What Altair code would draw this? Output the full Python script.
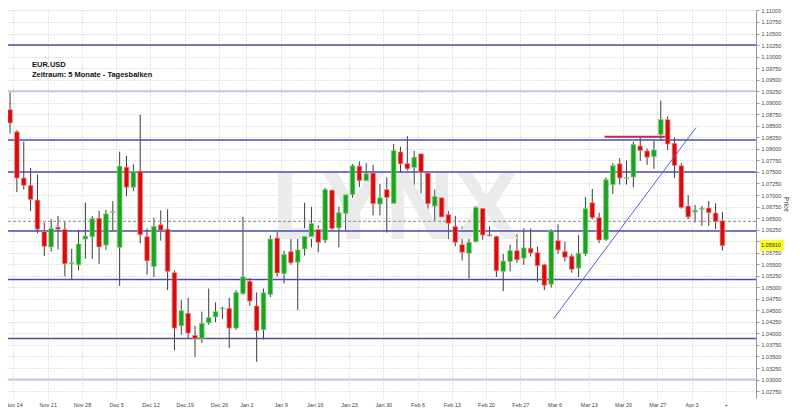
import altair as alt
import pandas as pd

# ---- daily OHLC, EUR.USD (trading-day index 0 = Nov 11) ----
opens = [1.08848, 1.08369, 1.07368, 1.07204, 1.06889, 1.06210, 1.05874, 1.06303, 1.06253, 1.05509,
         1.05488, 1.06045, 1.06096, 1.06496, 1.05917, 1.06625, 1.05867, 1.07604, 1.07168, 1.07518,
         1.06096, 1.05452, 1.06353, 1.06260, 1.05316, 1.04165, 1.04437, 1.03958, 1.03886, 1.04229,
         1.04358, 1.04537, 1.04544, 1.04115, 1.04866, 1.05130, 1.04594, 1.04079, 1.04844, 1.06067,
         1.05295, 1.05774, 1.05545, 1.05831, 1.06103, 1.06253, 1.06024, 1.07104, 1.06289, 1.06603,
         1.07011, 1.07626, 1.07311, 1.07475, 1.06803, 1.07118, 1.06818, 1.07933, 1.07683, 1.07597,
         1.07890, 1.07475, 1.06760, 1.06939, 1.06575, 1.06317, 1.05924, 1.05738, 1.05988, 1.06710,
         1.06138, 1.06103, 1.05345, 1.05559, 1.05795, 1.05631, 1.05845, 1.05752, 1.05488, 1.05066,
         1.06010, 1.05774, 1.05674, 1.05416, 1.05724, 1.06832, 1.06510, 1.06031, 1.07225, 1.07676,
         1.07361, 1.07390, 1.08062, 1.07955, 1.07833, 1.08312, 1.08634, 1.08119, 1.07633, 1.06760,
         1.06632, 1.06689, 1.06718, 1.06610, 1.06439]
highs = [1.09227, 1.08405, 1.08155, 1.07583, 1.07440, 1.06403, 1.06474, 1.06546, 1.06417, 1.05831,
         1.06246, 1.06832, 1.06546, 1.06653, 1.06675, 1.06868, 1.07940, 1.07847, 1.07669, 1.08741,
         1.06274, 1.06510, 1.06668, 1.06689, 1.05366, 1.04723, 1.04773, 1.04165, 1.04472, 1.04973,
         1.04673, 1.04580, 1.04773, 1.04937, 1.06525, 1.05202, 1.04887, 1.04973, 1.06131, 1.06203,
         1.05795, 1.06260, 1.06203, 1.06832, 1.06739, 1.06346, 1.07154, 1.07118, 1.06746, 1.07082,
         1.07676, 1.07726, 1.07690, 1.07654, 1.07240, 1.07383, 1.08105, 1.08047, 1.08276, 1.07955,
         1.07904, 1.07490, 1.07118, 1.07082, 1.06653, 1.06546, 1.06317, 1.06060, 1.06760, 1.06746,
         1.06317, 1.06117, 1.05724, 1.05924, 1.06153, 1.06281, 1.06274, 1.05881, 1.05509, 1.06260,
         1.06367, 1.05988, 1.05724, 1.06131, 1.06961, 1.07132, 1.06617, 1.07383, 1.07690, 1.07797,
         1.07747, 1.08155, 1.08248, 1.08012, 1.08176, 1.09048, 1.08705, 1.08248, 1.07690, 1.06996,
         1.06782, 1.06760, 1.06868, 1.06818, 1.06632]
lows = [1.08333, 1.07061, 1.07118, 1.06653, 1.06174, 1.05674, 1.05774, 1.05817, 1.05238, 1.05166,
        1.05366, 1.05616, 1.05616, 1.05509, 1.05817, 1.06224, 1.05030, 1.06975, 1.07082, 1.05953,
        1.05273, 1.05223, 1.06010, 1.04937, 1.03629, 1.03972, 1.03900, 1.03486, 1.03793, 1.04186,
        1.04244, 1.04315, 1.03686, 1.04079, 1.04830, 1.04601, 1.03386, 1.03865, 1.04787, 1.05238,
        1.05080, 1.05488, 1.04508, 1.05688, 1.05867, 1.05759, 1.05960, 1.06246, 1.05867, 1.06224,
        1.06939, 1.07175, 1.07082, 1.06560, 1.06560, 1.06188, 1.06725, 1.07282, 1.07533, 1.07082,
        1.07032, 1.06532, 1.06403, 1.06474, 1.06045, 1.05888, 1.05581, 1.05187, 1.05974, 1.06031,
        1.06103, 1.05223, 1.04916, 1.05345, 1.05531, 1.05488, 1.05667, 1.05116, 1.04937, 1.04994,
        1.05724, 1.05559, 1.05316, 1.05223, 1.05674, 1.06474, 1.05960, 1.06010, 1.07025, 1.07225,
        1.07225, 1.07168, 1.07740, 1.07654, 1.07568, 1.08176, 1.07976, 1.07368, 1.06703, 1.06474,
        1.06403, 1.06331, 1.06331, 1.06260, 1.05795]
closes = [1.08562, 1.07368, 1.07211, 1.06903, 1.06260, 1.05888, 1.06274, 1.06260, 1.05509, 1.05531,
          1.05938, 1.06110, 1.06489, 1.05874, 1.06589, 1.06639, 1.07626, 1.07168, 1.07511, 1.06138,
          1.05574, 1.06317, 1.06239, 1.05345, 1.04115, 1.04494, 1.04008, 1.03886, 1.04215, 1.04344,
          1.04472, 1.04551, 1.04115, 1.04887, 1.05223, 1.04701, 1.04058, 1.04880, 1.06045, 1.05309,
          1.05709, 1.05531, 1.05810, 1.06103, 1.06382, 1.05974, 1.07118, 1.06274, 1.06617, 1.07004,
          1.07633, 1.07311, 1.07461, 1.06811, 1.06939, 1.06946, 1.07962, 1.07676, 1.07568, 1.07819,
          1.07490, 1.06811, 1.06968, 1.06525, 1.06389, 1.05974, 1.05759, 1.05974, 1.06732, 1.06131,
          1.06117, 1.05359, 1.05566, 1.05795, 1.05595, 1.05852, 1.05745, 1.05466, 1.05044, 1.06224,
          1.05810, 1.05652, 1.05388, 1.05738, 1.06703, 1.06510, 1.06024, 1.07332, 1.07633, 1.07368,
          1.07375, 1.08098, 1.07962, 1.07819, 1.07976, 1.08634, 1.08105, 1.07640, 1.06732, 1.06525,
          1.06668, 1.06710, 1.06617, 1.06424, 1.05902]

# week starts (index of first trading day of each week) and their labels
tick_days = [1, 6, 11, 16, 21, 26, 31, 35, 40, 45, 50, 55, 60, 65, 70, 75, 80, 85, 90, 95, 100, 105]
tick_labels = ["Nov 14", "Nov 21", "Nov 28", "Dec 5", "Dec 12", "Dec 19", "Dec 26", "Jan 2", "Jan 9",
               "Jan 16", "Jan 23", "Jan 30", "Feb 6", "Feb 13", "Feb 20", "Feb 27", "Mar 6", "Mar 13",
               "Mar 20", "Mar 27", "Apr 3", "+"]

price_ticks = [round(1.0275 + 0.0025 * k, 4) for k in range(34)]

levels_dark = [1.1025, 1.0819, 1.0750, 1.0622, 1.0517, 1.0389]
levels_light = [1.0925, 1.0300]
level_dashed = [1.0643]
resist_i = [86.8, 95.6]
resist_p = [1.0826, 1.0826]
trend_i = [79.35, 100.14]
trend_p = [1.0432, 1.0846]
last_price = 1.0591

# ---- tables ----
df = pd.DataFrame({"i": list(range(len(opens))), "open": opens, "high": highs,
                   "low": lows, "close": closes})
df["dir"] = ["up" if c >= o else "down" for o, c in zip(opens, closes)]

W, H = 748, 388
xs = alt.Scale(domain=[-0.3, 108.9], nice=False, zero=False)
ys = alt.Scale(domain=[1.0260, 1.1101], nice=False, zero=False)

tick_pos = [t - 0.5 for t in tick_days]
label_expr = ("[" + ",".join("'%s'" % s for s in tick_labels) + "][indexof(["
              + ",".join(str(v) for v in tick_pos) + "], datum.value)]")

x_axis = alt.Axis(values=tick_pos, labelExpr=label_expr, title=None, grid=True,
                  gridColor="#c9c9c9", gridDash=[1, 2], gridWidth=1, domain=False,
                  ticks=False, labelFontSize=5.5, labelColor="#444", labelPadding=4,
                  labelFont="Liberation Sans", labelOverlap=False, labelFlush=False)
y_axis = alt.Axis(orient="right", values=price_ticks, format=".5f", title="Price",
                  titleFontSize=6.5, titleFontWeight="normal", titleColor="#333",
                  titleFont="Liberation Sans", titlePadding=2,
                  grid=True, gridColor="#c9c9c9", gridDash=[1, 2], gridWidth=1,
                  domainColor="#999", tickColor="#999", tickSize=3,
                  labelFontSize=5.5, labelColor="#444", labelPadding=2,
                  labelFont="Liberation Sans", labelOverlap=False)


def X(field):
    return alt.X(field, scale=xs, axis=x_axis)


def Y(field):
    return alt.Y(field, scale=ys, axis=y_axis)


base = alt.Chart(df)

wicks = base.mark_rule(color="#3c3c3c", strokeWidth=1).encode(
    x=X("i:Q"), y=Y("low:Q"), y2="high:Q",
)

bodies = base.transform_calculate(
    x0="datum.i - 0.34", x1="datum.i + 0.34"
).mark_rect(strokeWidth=0.7).encode(
    x=X("x0:Q"), x2="x1:Q",
    y=Y("open:Q"), y2="close:Q",
    color=alt.Color("dir:N", scale=alt.Scale(domain=["up", "down"], range=["#1ea31e", "#d60d0d"]),
                    legend=None),
    stroke=alt.Stroke("dir:N", scale=alt.Scale(domain=["up", "down"], range=["#7fd07f", "#f08a8a"]),
                      legend=None),
)

watermark = alt.Chart(pd.DataFrame({"t": ["LYNX"]})).mark_text(
    font="Liberation Sans", fontWeight="bold", fontSize=96, color="#ebebeb",
    align="center", baseline="middle"
).encode(text="t:N", x=alt.value(387), y=alt.value(200))

dark_lines = alt.Chart(pd.DataFrame({"p": levels_dark})).mark_rule(
    color="#4b4bb0", strokeWidth=1.5).encode(y=Y("p:Q"))
light_lines = alt.Chart(pd.DataFrame({"p": levels_light})).mark_rule(
    color="#c4c4ec", strokeWidth=2).encode(y=Y("p:Q"))
dash_line = alt.Chart(pd.DataFrame({"p": level_dashed})).mark_rule(
    color="#8a8a8a", strokeWidth=1, strokeDash=[3, 2]).encode(y=Y("p:Q"))

resist = alt.Chart(pd.DataFrame({"i": resist_i, "p": resist_p})).mark_line(
    color="#d4204c", strokeWidth=2).encode(x=X("i:Q"), y=Y("p:Q"))
trend = alt.Chart(pd.DataFrame({"i": trend_i, "p": trend_p})).mark_line(
    color="#5c5cd8", strokeWidth=1).encode(x=X("i:Q"), y=Y("p:Q"))

title_lines = ["EUR.USD", "Zeitraum: 5 Monate - Tagesbalken"]
title_layers = [
    alt.Chart(pd.DataFrame({"t": [s]})).mark_text(
        font="Liberation Sans", fontWeight="bold", fontSize=7.5, color="#111",
        align="left", baseline="alphabetic"
    ).encode(text="t:N", x=alt.value(24), y=alt.value(57 + 10 * k))
    for k, s in enumerate(title_lines)
]

tag_df = pd.DataFrame({"p": [last_price]})
tag_box = alt.Chart(tag_df).transform_calculate(
    top="datum.p + 0.0012", bot="datum.p - 0.0012"
).mark_rect(color="#ffff2e").encode(
    x=alt.value(W + 4), x2=alt.value(W + 28),
    y=Y("top:Q"), y2="bot:Q")
tag_text = alt.Chart(tag_df).mark_text(
    font="Liberation Sans", fontSize=5.5, color="#222", align="left", baseline="middle"
).encode(x=alt.value(W + 5), y=Y("p:Q"),
         text=alt.Text("p:Q", format=".5f"))

chart = alt.layer(
    wicks, watermark, light_lines, dash_line, dark_lines, bodies, trend, resist,
    *title_layers, tag_box, tag_text
).properties(
    width=W, height=H,
    padding={"left": 0, "top": 2, "right": 36, "bottom": 10},
    autosize=alt.AutoSizeParams(type="none"),
    background="white",
).configure_view(strokeWidth=0)

chart.save("out.html", embed_options={"renderer": "svg", "actions": False})
